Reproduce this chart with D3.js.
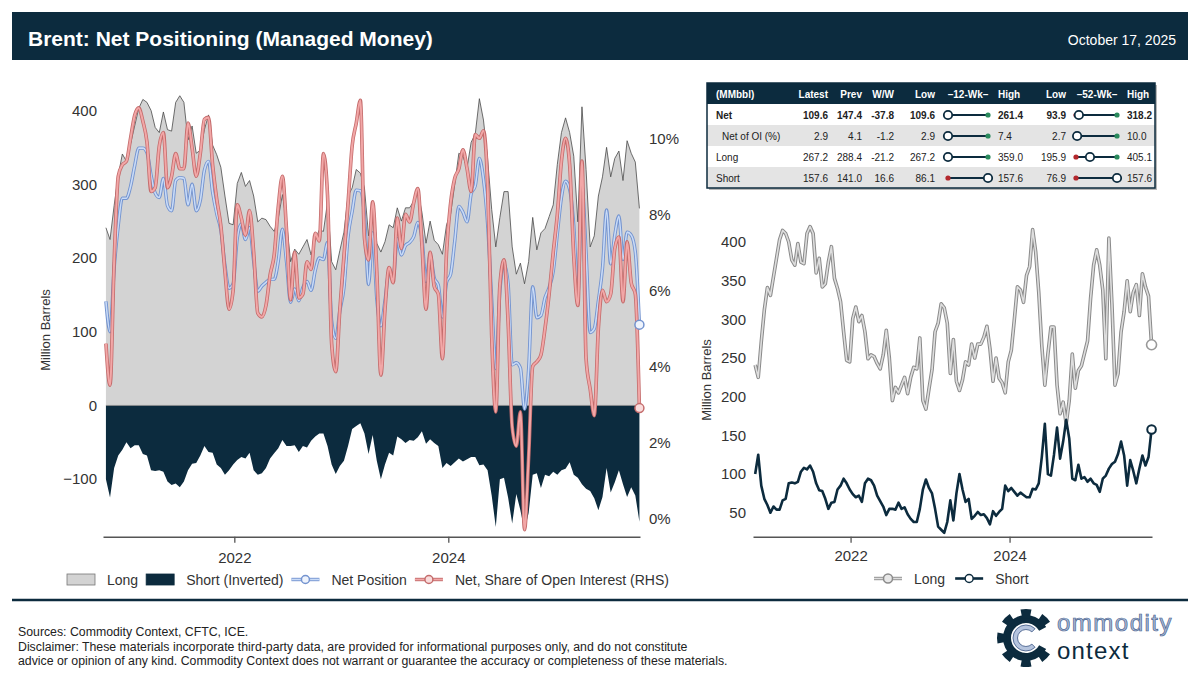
<!DOCTYPE html>
<html>
<head>
<meta charset="utf-8">
<script src="https://cdn.jsdelivr.net/npm/d3@7"></script>
<style>
  body { margin: 0; background: #fff; }
  svg { display: block; font-family: "Liberation Sans", Arial, sans-serif; }
</style>
</head>
<body>
<svg id="chart" width="1200" height="685"></svg>
<script>
// ---- data (one point every two weeks) ----
const firstWeek = "2020-10-20";
const stepDays = 14;

// managed money long, million barrels
const longVals = [241, 225, 271, 312, 341, 331, 355, 379, 403, 415, 411, 400, 377, 370, 398, 374, 372, 411, 420, 411,
  360, 379, 342, 346, 374, 394, 353, 340, 323, 284, 247, 245, 301, 316, 297, 305, 284, 249, 254, 252,
  243, 236, 254, 286, 250, 195, 212, 205, 215, 225, 204, 225, 238, 236, 276, 195, 184, 210, 235, 284,
  295, 320, 315, 295, 230, 274, 220, 208, 222, 245, 241, 268, 250, 268, 268, 277, 291, 262, 220, 250,
  224, 218, 205, 245, 260, 300, 342, 338, 322, 357, 368, 416, 387, 335, 266, 215, 255, 290, 290, 215,
  178, 193, 165, 195, 255, 211, 234, 240, 256, 272, 327, 370, 390, 370, 338, 249, 405, 320, 215, 230,
  284, 310, 350, 310, 335, 345, 305, 359, 342, 330, 267.2];

// managed money short, million barrels
const shortVals = [100, 125, 85, 68, 60, 50, 58, 54, 54, 66, 68, 88, 89, 88, 90, 103, 108, 106, 111, 103,
  88, 79, 78, 68, 55, 63, 64, 80, 85, 94, 88, 80, 74, 70, 72, 64, 88, 94, 92, 85,
  72, 65, 58, 47, 55, 55, 54, 63, 55, 57, 48, 42, 38, 38, 55, 80, 93, 82, 75, 55,
  32, 28, 24, 38, 66, 40, 75, 100, 80, 64, 68, 42, 46, 51, 47, 48, 43, 35, 52, 46,
  51, 55, 85, 78, 82, 77, 72, 76, 73, 70, 70, 81, 80, 88, 122, 165, 100, 98, 125, 160,
  120, 142, 170, 146, 94, 92, 112, 94, 96, 90, 94, 88, 86, 77, 94, 98, 107, 113, 116, 126,
  142, 124, 85, 118, 104, 88, 107, 124, 111, 122, 157.6];

// net position as a share of open interest, percent
const netShareVals = [4.6, 3.5, 6.75, 9.0, 9.3, 9.4, 10.0, 10.6, 10.8, 10.45, 9.9, 8.6, 8.7, 9.8, 10.15, 8.7, 9.0, 9.6, 9.2, 9.2,
  10.4, 9.74, 9.0, 9.6, 10.5, 10.55, 9.3, 8.4, 7.7, 6.5, 5.5, 6.0, 8.25, 7.9, 7.45, 8.1, 7.0, 5.4, 5.3, 5.6,
  6.4, 6.93, 8.2, 9.0, 7.6, 5.75, 7.0, 5.8, 5.9, 6.75, 6.55, 7.5, 7.3, 9.6, 8.5, 4.6, 3.86, 5.5, 6.9, 8.3,
  9.8, 10.4, 11.0, 7.37, 6.8, 8.33, 6.5, 3.77, 5.5, 6.6, 6.2, 7.9, 7.1, 8.0, 7.8, 8.3, 8.68, 7.2, 5.5, 7.0,
  6.1, 5.9, 4.2, 7.0, 8.3, 8.95, 9.2, 9.7, 9.2, 8.6, 10.1, 10.0, 10.2, 8.8, 4.8, 2.8, 6.14, 6.8, 5.17, 2.4,
  1.9, 2.8, -0.3, 1.6, 4.0, 4.12, 4.3, 5.0, 5.9, 7.0, 8.0, 9.4, 10.0, 9.3, 6.9, 5.6, 9.4, 4.2, 3.4, 2.7,
  5.0, 6.0, 5.7, 5.9, 7.1, 7.4, 5.7, 7.28, 6.2, 5.9, 2.9];

const xTickYears = ["2022", "2024"];
const leftTicks = [-100, 0, 100, 200, 300, 400];
const pctTicks = [0, 2, 4, 6, 8, 10];
const rightTicks = [50, 100, 150, 200, 250, 300, 350, 400];

// summary table
const tableHead = ["(MMbbl)", "Latest", "Prev", "W/W", "Low", "\u201312-Wk\u2013", "High", "Low", "\u201352-Wk\u2013", "High"];
const rowLabels = ["Net", "Net of OI (%)", "Long", "Short"];
const latestVals = [109.6, 2.9, 267.2, 157.6];
const prevVals = [147.4, 4.1, 288.4, 141.0];
const wowVals = [-37.8, -1.2, -21.2, 16.6];
const low12 = [109.6, 2.9, 267.2, 86.1];
const high12 = [261.4, 7.4, 359.0, 157.6];
const low52 = [93.9, 2.7, 195.9, 76.9];
const high52 = [318.2, 10.0, 405.1, 157.6];

const titleText = "Brent: Net Positioning (Managed Money)";
const dateText = "October 17, 2025";
const footerLines = [
  "Sources: Commodity Context, CFTC, ICE.",
  "Disclaimer: These materials incorporate third-party data, are provided for informational purposes only, and do not constitute",
  "advice or opinion of any kind. Commodity Context does not warrant or guarantee the accuracy or completeness of these materials."
];

// ---- build rows ----
const parseDay = d3.utcParse("%Y-%m-%d");
const start = parseDay(firstWeek);
const rows = longVals.map((v, i) => ({
  date: d3.utcDay.offset(start, i * stepDays),
  long: v,
  short: shortVals[i],
  net: v - shortVals[i],
  share: netShareVals[i]
}));
const last = rows[rows.length - 1];

const navy = "#0c2b3e";
const txt = "#333";
const svg = d3.select("#chart");

svg.append("rect").attr("width", 1200).attr("height", 685).attr("fill", "#fff");

// header bar
svg.append("rect").attr("x", 12).attr("y", 12).attr("width", 1176).attr("height", 48).attr("fill", navy);
svg.append("text").attr("x", 28).attr("y", 46).attr("fill", "#fff")
  .style("font-size", "21px").style("font-weight", "bold").text(titleText);
svg.append("text").attr("x", 1176).attr("y", 45).attr("text-anchor", "end").attr("fill", "#fff")
  .style("font-size", "14px").text(dateText);

// shared time domain
const timeDomain = [parseDay("2020-10-10"), parseDay("2025-10-16")];
const tickDates = xTickYears.map(y => d3.utcParse("%Y")(y));

// ================= left chart =================
const xL = d3.scaleUtc().domain(timeDomain).range([103, 640]);
const yL = d3.scaleLinear().domain([-178, 421]).range([536.7, 95]);
const yP = d3.scaleLinear().domain([-0.484, 11.14]).range([536.7, 95]);

const left = svg.append("g");

left.append("path").datum(rows)
  .attr("d", d3.area().x(d => xL(d.date)).y0(yL(0)).y1(d => yL(d.long)))
  .attr("fill", "#d3d3d3");
left.append("path").datum(rows)
  .attr("d", d3.line().x(d => xL(d.date)).y(d => yL(d.long)))
  .attr("fill", "none").attr("stroke", "#4a4a4a").attr("stroke-width", 0.8);

left.append("path").datum(rows)
  .attr("d", d3.area().x(d => xL(d.date)).y0(yL(0)).y1(d => yL(-d.short)))
  .attr("fill", navy);

left.append("line")
  .attr("x1", xL(rows[0].date)).attr("x2", xL(last.date))
  .attr("y1", yL(0)).attr("y2", yL(0))
  .attr("stroke", "#8a8a8a").attr("stroke-width", 0.8);

// net position line (double stroke)
const netLine = d3.line().x(d => xL(d.date)).y(d => yL(d.net)).curve(d3.curveMonotoneX);
left.append("path").datum(rows).attr("d", netLine)
  .attr("fill", "none").attr("stroke", "#7393cf").attr("stroke-width", 3.4);
left.append("path").datum(rows).attr("d", netLine)
  .attr("fill", "none").attr("stroke", "#c9dbf7").attr("stroke-width", 1.6);

// net share of OI line (RHS)
const shareLine = d3.line().x(d => xL(d.date)).y(d => yP(d.share)).curve(d3.curveMonotoneX);
left.append("path").datum(rows).attr("d", shareLine)
  .attr("fill", "none").attr("stroke", "#c46c6c").attr("stroke-width", 3.6);
left.append("path").datum(rows).attr("d", shareLine)
  .attr("fill", "none").attr("stroke", "#f2a7a7").attr("stroke-width", 2);

left.append("circle").attr("cx", xL(last.date)).attr("cy", yL(last.net)).attr("r", 4.5)
  .attr("fill", "#eef3fc").attr("stroke", "#7393cf").attr("stroke-width", 1.5);
left.append("circle").attr("cx", xL(last.date)).attr("cy", yP(last.share)).attr("r", 4.5)
  .attr("fill", "#f9dcdc").attr("stroke", "#c46c6c").attr("stroke-width", 1.5);

// axes
function styleAxis(g, fontSize) {
  g.selectAll("text").attr("fill", txt).style("font-size", fontSize).style("font-family", "Liberation Sans, Arial, sans-serif");
  g.selectAll("line").attr("stroke", "#555").attr("stroke-width", 1.3);
  g.select(".domain").attr("stroke", "#555").attr("stroke-width", 1.5);
}

left.append("g").attr("transform", "translate(0,536.7)")
  .call(d3.axisBottom(xL).tickValues(tickDates).tickFormat(d3.utcFormat("%Y")).tickSize(6).tickSizeOuter(0).tickPadding(10))
  .call(g => styleAxis(g, "15px"));

left.append("g").attr("transform", "translate(103,0)")
  .call(d3.axisLeft(yL).tickValues(leftTicks).tickSize(0).tickPadding(6))
  .call(g => { styleAxis(g, "15px"); g.select(".domain").remove(); });

left.append("g").attr("transform", "translate(640,0)")
  .call(d3.axisRight(yP).tickValues(pctTicks).tickFormat(d => d + "%").tickSize(0).tickPadding(9))
  .call(g => { styleAxis(g, "15px"); g.select(".domain").remove(); });

left.append("text").attr("transform", "translate(50,330) rotate(-90)")
  .attr("text-anchor", "middle").attr("fill", txt).style("font-size", "13px").text("Million Barrels");

// legend (left)
const legendL = [
  { label: "Long", kind: "box", fill: "#d3d3d3", stroke: "#777" },
  { label: "Short (Inverted)", kind: "box", fill: navy, stroke: navy },
  { label: "Net Position", kind: "line", outer: "#7393cf", inner: "#c9dbf7", dot: "#eef3fc" },
  { label: "Net, Share of Open Interest (RHS)", kind: "line", outer: "#c46c6c", inner: "#f2a7a7", dot: "#f9dcdc" }
];

function drawLegend(items, x0, yMid, gap) {
  const g = svg.append("g");
  let x = x0;
  items.forEach(it => {
    if (it.kind === "box") {
      g.append("rect").attr("x", x).attr("y", yMid - 5.5).attr("width", 28).attr("height", 11)
        .attr("fill", it.fill).attr("stroke", it.stroke).attr("stroke-width", 0.8);
    } else {
      g.append("line").attr("x1", x).attr("x2", x + 28).attr("y1", yMid).attr("y2", yMid)
        .attr("stroke", it.outer).attr("stroke-width", it.w || 3.4);
      if (it.inner) {
        g.append("line").attr("x1", x).attr("x2", x + 28).attr("y1", yMid).attr("y2", yMid)
          .attr("stroke", it.inner).attr("stroke-width", 1.6);
      }
      g.append("circle").attr("cx", x + 14).attr("cy", yMid).attr("r", it.r || 4)
        .attr("fill", it.dot).attr("stroke", it.outer).attr("stroke-width", 1.5);
    }
    const t = g.append("text").attr("x", x + 40).attr("y", yMid + 5).attr("fill", txt)
      .style("font-size", "14px").text(it.label);
    x += 40 + t.node().getComputedTextLength() + gap;
  });
}
drawLegend(legendL, 67, 579.5, 8);

// ================= summary table =================
const tab = svg.append("g");
const tX = 707, tY = 83, tW = 448, headH = 21, rowH = 21;
const tFont = "10px";
tab.append("rect").attr("x", tX + 2).attr("y", tY + 2).attr("width", tW).attr("height", headH + rowH * 4)
  .attr("fill", "#b8b8b8");
tab.append("rect").attr("x", tX).attr("y", tY).attr("width", tW).attr("height", headH + rowH * 4)
  .attr("fill", "#fff");
tab.append("rect").attr("x", tX).attr("y", tY).attr("width", tW).attr("height", headH).attr("fill", navy);
rowLabels.forEach((r, i) => {
  if (i % 2 === 1) {
    tab.append("rect").attr("x", tX).attr("y", tY + headH + i * rowH).attr("width", tW).attr("height", rowH)
      .attr("fill", "#e4e4e4");
  }
});
tab.append("rect").attr("x", tX).attr("y", tY).attr("width", tW).attr("height", headH + rowH * 4)
  .attr("fill", "none").attr("stroke", navy).attr("stroke-width", 1.5);

// column anchors: [x, anchor]
const colPos = [[716, "start"], [828, "end"], [862, "end"], [894, "end"], [935, "end"],
  [968, "middle"], [998, "start"], [1066, "end"], [1097, "middle"], [1127, "start"]];
tableHead.forEach((h, j) => {
  tab.append("text").attr("x", colPos[j][0]).attr("y", tY + 14.5).attr("text-anchor", colPos[j][1])
    .attr("fill", "#fff").style("font-size", tFont).style("font-weight", "bold").text(h);
});

const fmt = v => v.toFixed(1);
const dumb12 = [948, 988], dumb52 = [1076, 1117];
rowLabels.forEach((lab, i) => {
  const yb = tY + headH + i * rowH + 14.5;
  const weight = i === 0 ? "bold" : "normal";
  const cells = [lab, fmt(latestVals[i]), fmt(prevVals[i]), fmt(wowVals[i]), fmt(low12[i]), null,
    fmt(high12[i]), fmt(low52[i]), null, fmt(high52[i])];
  cells.forEach((c, j) => {
    if (c === null) return;
    const x = (j === 0 && i === 1) ? 722 : colPos[j][0];
    tab.append("text").attr("x", x).attr("y", yb).attr("text-anchor", colPos[j][1])
      .attr("fill", "#222").style("font-size", tFont).style("font-weight", weight).text(c);
  });
  const yc = yb - 3.5;
  [[dumb12, low12[i], high12[i]], [dumb52, low52[i], high52[i]]].forEach(([span, lo, hi]) => {
    const s = d3.scaleLinear().domain([lo, hi]).range(span);
    tab.append("line").attr("x1", span[0]).attr("x2", span[1]).attr("y1", yc).attr("y2", yc)
      .attr("stroke", navy).attr("stroke-width", 2);
    tab.append("circle").attr("cx", s(lo)).attr("cy", yc).attr("r", 2.6).attr("fill", "#b3282d");
    tab.append("circle").attr("cx", s(hi)).attr("cy", yc).attr("r", 2.6).attr("fill", "#2a8a5c");
    tab.append("circle").attr("cx", s(latestVals[i])).attr("cy", yc).attr("r", 4.2)
      .attr("fill", "#fff").attr("stroke", navy).attr("stroke-width", 1.8);
  });
});

// ================= right chart =================
const xR = d3.scaleUtc().domain(timeDomain).range([753, 1152]);
const yR = d3.scaleLinear().domain([19, 422]).range([536.7, 225]);
const right = svg.append("g");

const longLine = d3.line().x(d => xR(d.date)).y(d => yR(d.long));
right.append("path").datum(rows).attr("d", longLine)
  .attr("fill", "none").attr("stroke", "#8a8a8a").attr("stroke-width", 3.6).attr("stroke-linejoin", "round");
right.append("path").datum(rows).attr("d", longLine)
  .attr("fill", "none").attr("stroke", "#dedede").attr("stroke-width", 1.6).attr("stroke-linejoin", "round");
right.append("path").datum(rows)
  .attr("d", d3.line().x(d => xR(d.date)).y(d => yR(d.short)))
  .attr("fill", "none").attr("stroke", navy).attr("stroke-width", 2.6).attr("stroke-linejoin", "round");

right.append("circle").attr("cx", xR(last.date)).attr("cy", yR(last.long)).attr("r", 5)
  .attr("fill", "#fff").attr("stroke", "#999").attr("stroke-width", 1.6);
right.append("circle").attr("cx", xR(last.date)).attr("cy", yR(last.short)).attr("r", 4.3)
  .attr("fill", "#fff").attr("stroke", navy).attr("stroke-width", 2);

right.append("g").attr("transform", "translate(0,536.7)")
  .call(d3.axisBottom(xR).tickValues(tickDates).tickFormat(d3.utcFormat("%Y")).tickSize(6).tickSizeOuter(0).tickPadding(8))
  .call(g => styleAxis(g, "15px"));
right.append("g").attr("transform", "translate(753,0)")
  .call(d3.axisLeft(yR).tickValues(rightTicks).tickSize(0).tickPadding(7))
  .call(g => { styleAxis(g, "15px"); g.select(".domain").remove(); });
right.append("text").attr("transform", "translate(711,380) rotate(-90)")
  .attr("text-anchor", "middle").attr("fill", txt).style("font-size", "13px").text("Million Barrels");

const legendR = [
  { label: "Long", kind: "line", outer: "#8a8a8a", inner: "#dedede", dot: "#e8e8e8", r: 4.5 },
  { label: "Short", kind: "line", outer: navy, dot: "#fff", w: 2.6, r: 4 }
];
drawLegend(legendR, 874, 578.5, 10);

// ================= footer =================
svg.append("line").attr("x1", 12).attr("x2", 1188).attr("y1", 600).attr("y2", 600)
  .attr("stroke", navy).attr("stroke-width", 2.5);
footerLines.forEach((l, i) => {
  svg.append("text").attr("x", 18).attr("y", 636 + i * 14.5).attr("fill", "#222")
    .style("font-size", "12.3px").text(l);
});

// logo
const logo = svg.append("g").attr("transform", "translate(1026,638)");
const openA = 0.5;
logo.append("path")
  .attr("d", d3.arc().innerRadius(15).outerRadius(23)
    .startAngle(Math.PI / 2 + openA).endAngle(Math.PI / 2 + 2 * Math.PI - openA)())
  .attr("fill", navy);
d3.range(8).forEach(k => {
  if (k === 2) return;
  const a = k * Math.PI / 4;
  logo.append("path")
    .attr("d", d3.arc().innerRadius(20).outerRadius(29).startAngle(a - 0.19).endAngle(a + 0.19)())
    .attr("fill", navy);
});
logo.append("path")
  .attr("d", d3.arc().innerRadius(8.5).outerRadius(13)
    .startAngle(Math.PI / 2 + 0.8).endAngle(Math.PI / 2 + 2 * Math.PI - 0.8)())
  .attr("fill", "#b5c4de").attr("stroke", "#4d6590").attr("stroke-width", 0.9);
svg.append("text").attr("x", 1057).attr("y", 631).attr("fill", "#a9bad6").attr("stroke", "#4d6590")
  .attr("stroke-width", 0.7).attr("letter-spacing", 1.5).style("font-size", "24px").text("ommodity");
svg.append("text").attr("x", 1057).attr("y", 659).attr("fill", navy).attr("letter-spacing", 1.2)
  .style("font-size", "24px").text("ontext");
</script>
</body>
</html>
